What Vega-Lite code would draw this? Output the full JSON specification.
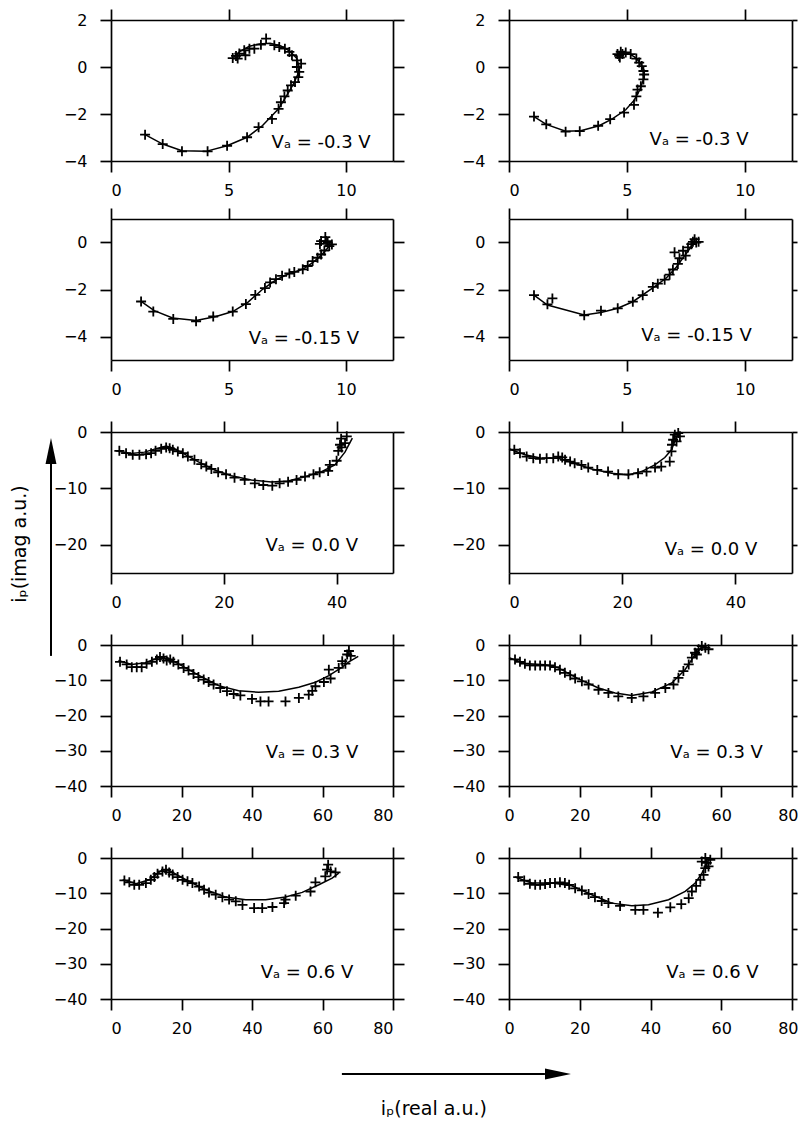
{
"$schema": "https://vega.github.io/schema/vega-lite/v6.json",
"background": "white",
"padding": {"left": 11, "top": 8, "right": 0, "bottom": 0},
"columns": 2,
"align": "each",
"bounds": "flush",
"spacing": {"row": 72, "column": 116},
"config": {
 "view": {"stroke": null},
 "axis": {"grid": false, "domainColor": "black", "domainWidth": 1.7, "tickColor": "black", "tickWidth": 1.7, "tickSize": 11, "labelFont": "DejaVu Sans", "labelFontSize": 16, "labelColor": "black", "minExtent": 0, "labelOverlap": false},
 "axisBottom": {"labelPadding": 10},
 "axisLeft": {"labelPadding": 13},
 "text": {"font": "DejaVu Sans", "color": "black"}
},
"datasets": {
"meas": [
{"p":1,"x":1.45,"y":-2.88},{"p":1,"x":2.2,"y":-3.28},{"p":1,"x":3.02,"y":-3.59},{"p":1,"x":4.11,"y":-3.59},{"p":1,"x":4.94,"y":-3.35},{"p":1,"x":5.79,"y":-2.99},{"p":1,"x":6.28,"y":-2.56},{"p":1,"x":6.85,"y":-2.21},{"p":1,"x":7.13,"y":-1.78},{"p":1,"x":7.23,"y":-1.5},{"p":1,"x":7.38,"y":-1.25},{"p":1,"x":7.52,"y":-1.0},{"p":1,"x":7.66,"y":-0.78},{"p":1,"x":7.83,"y":-0.64},{"p":1,"x":7.97,"y":-0.43},{"p":1,"x":8.01,"y":-0.21},{"p":1,"x":7.91,"y":0.0},{"p":1,"x":8.09,"y":0.14},{"p":1,"x":7.91,"y":0.28},{"p":1,"x":7.7,"y":0.5},{"p":1,"x":7.59,"y":0.64},{"p":1,"x":7.4,"y":0.78},{"p":1,"x":7.16,"y":0.85},{"p":1,"x":6.95,"y":0.93},{"p":1,"x":6.6,"y":1.21},{"p":1,"x":6.38,"y":0.95},{"p":1,"x":6.1,"y":0.78},{"p":1,"x":5.89,"y":0.78},{"p":1,"x":5.67,"y":0.71},{"p":1,"x":5.72,"y":0.5},{"p":1,"x":5.46,"y":0.57},{"p":1,"x":5.32,"y":0.47},{"p":1,"x":5.18,"y":0.38},{"p":1,"x":5.39,"y":0.36},
{"p":2,"x":1.06,"y":-2.11},{"p":2,"x":1.58,"y":-2.44},{"p":2,"x":2.4,"y":-2.75},{"p":2,"x":3.0,"y":-2.73},{"p":2,"x":3.78,"y":-2.5},{"p":2,"x":4.29,"y":-2.22},{"p":2,"x":4.88,"y":-1.94},{"p":2,"x":5.3,"y":-1.61},{"p":2,"x":5.4,"y":-1.25},{"p":2,"x":5.45,"y":-0.96},{"p":2,"x":5.59,"y":-0.82},{"p":2,"x":5.7,"y":-0.53},{"p":2,"x":5.73,"y":-0.32},{"p":2,"x":5.7,"y":-0.17},{"p":2,"x":5.63,"y":0.04},{"p":2,"x":5.52,"y":0.19},{"p":2,"x":5.4,"y":0.36},{"p":2,"x":5.16,"y":0.55},{"p":2,"x":4.95,"y":0.62},{"p":2,"x":4.74,"y":0.65},{"p":2,"x":4.67,"y":0.47},{"p":2,"x":4.81,"y":0.55},{"p":2,"x":4.6,"y":0.55},{"p":2,"x":4.7,"y":0.4},
{"p":3,"x":1.28,"y":-2.51},{"p":3,"x":1.8,"y":-2.94},{"p":3,"x":2.65,"y":-3.25},{"p":3,"x":3.62,"y":-3.35},{"p":3,"x":4.35,"y":-3.15},{"p":3,"x":5.18,"y":-2.94},{"p":3,"x":5.74,"y":-2.62},{"p":3,"x":6.14,"y":-2.23},{"p":3,"x":6.55,"y":-1.94},{"p":3,"x":6.77,"y":-1.7},{"p":3,"x":7.02,"y":-1.56},{"p":3,"x":7.28,"y":-1.42},{"p":3,"x":7.59,"y":-1.32},{"p":3,"x":7.8,"y":-1.25},{"p":3,"x":8.16,"y":-1.14},{"p":3,"x":8.37,"y":-1.0},{"p":3,"x":8.58,"y":-0.79},{"p":3,"x":8.79,"y":-0.65},{"p":3,"x":8.94,"y":-0.51},{"p":3,"x":9.08,"y":-0.34},{"p":3,"x":9.29,"y":-0.15},{"p":3,"x":9.4,"y":-0.08},{"p":3,"x":9.15,"y":0.06},{"p":3,"x":8.94,"y":0.06},{"p":3,"x":9.12,"y":0.23},{"p":3,"x":9.22,"y":-0.01},{"p":3,"x":8.89,"y":-0.06},
{"p":4,"x":1.06,"y":-2.24},{"p":4,"x":1.63,"y":-2.63},{"p":4,"x":1.84,"y":-2.38},{"p":4,"x":3.19,"y":-3.1},{"p":4,"x":3.9,"y":-2.9},{"p":4,"x":4.61,"y":-2.8},{"p":4,"x":5.25,"y":-2.52},{"p":4,"x":5.67,"y":-2.24},{"p":4,"x":6.1,"y":-1.89},{"p":4,"x":6.31,"y":-1.75},{"p":4,"x":6.6,"y":-1.58},{"p":4,"x":6.81,"y":-1.37},{"p":4,"x":6.95,"y":-1.15},{"p":4,"x":7.16,"y":-0.91},{"p":4,"x":7.23,"y":-0.67},{"p":4,"x":7.02,"y":-0.42},{"p":4,"x":7.38,"y":-0.35},{"p":4,"x":7.49,"y":-0.56},{"p":4,"x":7.59,"y":-0.21},{"p":4,"x":7.73,"y":-0.07},{"p":4,"x":7.87,"y":0.14},{"p":4,"x":7.94,"y":0.0},{"p":4,"x":8.04,"y":0.03},{"p":4,"x":7.8,"y":0.03},
{"p":5,"x":1.48,"y":-3.33},{"p":5,"x":2.67,"y":-3.75},{"p":5,"x":3.85,"y":-4.05},{"p":5,"x":5.04,"y":-4.05},{"p":5,"x":6.22,"y":-3.93},{"p":5,"x":7.11,"y":-3.75},{"p":5,"x":7.9,"y":-3.33},{"p":5,"x":8.9,"y":-2.98},{"p":5,"x":9.78,"y":-2.74},{"p":5,"x":10.4,"y":-2.86},{"p":5,"x":10.96,"y":-3.15},{"p":5,"x":11.85,"y":-3.45},{"p":5,"x":12.74,"y":-3.75},{"p":5,"x":13.63,"y":-4.35},{"p":5,"x":14.8,"y":-4.94},{"p":5,"x":16.0,"y":-5.71},{"p":5,"x":16.9,"y":-6.13},{"p":5,"x":17.8,"y":-6.55},{"p":5,"x":19.0,"y":-7.14},{"p":5,"x":20.4,"y":-7.5},{"p":5,"x":21.9,"y":-8.1},{"p":5,"x":23.7,"y":-8.5},{"p":5,"x":25.5,"y":-9.1},{"p":5,"x":27.0,"y":-9.4},{"p":5,"x":28.6,"y":-9.52},{"p":5,"x":29.9,"y":-9.1},{"p":5,"x":31.4,"y":-8.8},{"p":5,"x":32.9,"y":-8.5},{"p":5,"x":34.4,"y":-7.9},{"p":5,"x":35.9,"y":-7.5},{"p":5,"x":37.0,"y":-7.14},{"p":5,"x":38.5,"y":-6.9},{"p":5,"x":38.8,"y":-5.83},{"p":5,"x":40.0,"y":-5.1},{"p":5,"x":40.3,"y":-3.33},{"p":5,"x":40.6,"y":-2.26},{"p":5,"x":40.8,"y":-1.19},{"p":5,"x":41.5,"y":-1.96},{"p":5,"x":41.8,"y":-0.77},{"p":5,"x":40.9,"y":-2.74},
{"p":6,"x":0.94,"y":-3.15},{"p":6,"x":1.94,"y":-3.75},{"p":6,"x":3.12,"y":-4.35},{"p":6,"x":4.29,"y":-4.64},{"p":6,"x":5.47,"y":-4.76},{"p":6,"x":6.65,"y":-4.64},{"p":6,"x":7.82,"y":-4.64},{"p":6,"x":8.7,"y":-4.35},{"p":6,"x":9.4,"y":-4.5},{"p":6,"x":9.9,"y":-4.94},{"p":6,"x":10.8,"y":-5.24},{"p":6,"x":11.6,"y":-5.54},{"p":6,"x":12.8,"y":-5.83},{"p":6,"x":14.0,"y":-6.3},{"p":6,"x":15.6,"y":-6.73},{"p":6,"x":17.5,"y":-7.02},{"p":6,"x":19.3,"y":-7.5},{"p":6,"x":21.1,"y":-7.5},{"p":6,"x":22.8,"y":-7.32},{"p":6,"x":24.3,"y":-7.02},{"p":6,"x":25.8,"y":-6.3},{"p":6,"x":26.9,"y":-6.13},{"p":6,"x":28.4,"y":-5.24},{"p":6,"x":28.7,"y":-3.45},{"p":6,"x":28.8,"y":-2.26},{"p":6,"x":29.0,"y":-1.37},{"p":6,"x":29.3,"y":-0.48},{"p":6,"x":29.9,"y":-0.18},{"p":6,"x":30.2,"y":-0.77},{"p":6,"x":29.6,"y":-1.67},
{"p":7,"x":2.56,"y":-4.76},{"p":7,"x":4.45,"y":-5.5},{"p":7,"x":5.9,"y":-6.3},{"p":7,"x":7.3,"y":-6.3},{"p":7,"x":8.7,"y":-6.3},{"p":7,"x":10.1,"y":-5.3},{"p":7,"x":11.6,"y":-4.76},{"p":7,"x":13.0,"y":-4.1},{"p":7,"x":13.9,"y":-3.4},{"p":7,"x":14.9,"y":-3.8},{"p":7,"x":15.8,"y":-4.4},{"p":7,"x":16.8,"y":-4.1},{"p":7,"x":17.7,"y":-4.76},{"p":7,"x":19.1,"y":-5.5},{"p":7,"x":20.6,"y":-6.5},{"p":7,"x":22.0,"y":-7.2},{"p":7,"x":23.4,"y":-8.2},{"p":7,"x":24.8,"y":-9.1},{"p":7,"x":26.3,"y":-9.8},{"p":7,"x":27.7,"y":-10.5},{"p":7,"x":29.1,"y":-11.2},{"p":7,"x":31.0,"y":-12.2},{"p":7,"x":32.9,"y":-13.1},{"p":7,"x":34.8,"y":-13.9},{"p":7,"x":36.7,"y":-14.3},{"p":7,"x":40.0,"y":-15.3},{"p":7,"x":42.4,"y":-16.0},{"p":7,"x":44.7,"y":-16.0},{"p":7,"x":49.5,"y":-16.0},{"p":7,"x":53.3,"y":-15.0},{"p":7,"x":56.1,"y":-14.1},{"p":7,"x":57.1,"y":-13.0},{"p":7,"x":58.0,"y":-11.7},{"p":7,"x":60.4,"y":-10.5},{"p":7,"x":62.3,"y":-9.5},{"p":7,"x":61.8,"y":-7.0},{"p":7,"x":64.6,"y":-6.5},{"p":7,"x":65.6,"y":-4.6},{"p":7,"x":67.0,"y":-2.7},{"p":7,"x":67.5,"y":-1.7},{"p":7,"x":68.0,"y":-3.1},{"p":7,"x":66.5,"y":-5.3},
{"p":8,"x":1.7,"y":-4.1},{"p":8,"x":3.1,"y":-4.76},{"p":8,"x":4.5,"y":-5.3},{"p":8,"x":5.9,"y":-5.8},{"p":8,"x":7.4,"y":-5.8},{"p":8,"x":8.8,"y":-5.8},{"p":8,"x":10.2,"y":-5.8},{"p":8,"x":11.6,"y":-5.8},{"p":8,"x":13.0,"y":-6.3},{"p":8,"x":14.4,"y":-7.0},{"p":8,"x":15.8,"y":-7.9},{"p":8,"x":17.3,"y":-8.6},{"p":8,"x":18.7,"y":-9.5},{"p":8,"x":20.6,"y":-10.3},{"p":8,"x":22.5,"y":-11.2},{"p":8,"x":25.3,"y":-12.7},{"p":8,"x":28.1,"y":-13.6},{"p":8,"x":30.9,"y":-14.6},{"p":8,"x":34.7,"y":-15.0},{"p":8,"x":38.0,"y":-14.6},{"p":8,"x":41.3,"y":-13.6},{"p":8,"x":44.2,"y":-12.2},{"p":8,"x":46.5,"y":-11.2},{"p":8,"x":47.9,"y":-9.3},{"p":8,"x":49.3,"y":-7.4},{"p":8,"x":50.8,"y":-5.5},{"p":8,"x":51.7,"y":-3.6},{"p":8,"x":52.6,"y":-2.2},{"p":8,"x":53.6,"y":-1.2},{"p":8,"x":54.5,"y":-0.3},{"p":8,"x":55.5,"y":-0.76},{"p":8,"x":56.4,"y":-1.2},{"p":8,"x":53.1,"y":-2.7},
{"p":9,"x":3.8,"y":-6.35},{"p":9,"x":5.2,"y":-6.9},{"p":9,"x":6.6,"y":-7.6},{"p":9,"x":8.0,"y":-7.6},{"p":9,"x":9.9,"y":-7.1},{"p":9,"x":11.3,"y":-6.2},{"p":9,"x":12.3,"y":-5.4},{"p":9,"x":13.2,"y":-4.5},{"p":9,"x":14.6,"y":-3.8},{"p":9,"x":15.6,"y":-3.3},{"p":9,"x":16.5,"y":-4.1},{"p":9,"x":17.5,"y":-4.7},{"p":9,"x":18.9,"y":-5.4},{"p":9,"x":20.3,"y":-6.2},{"p":9,"x":21.7,"y":-6.6},{"p":9,"x":23.1,"y":-7.1},{"p":9,"x":25.0,"y":-8.1},{"p":9,"x":26.4,"y":-9.0},{"p":9,"x":27.8,"y":-9.8},{"p":9,"x":29.7,"y":-10.4},{"p":9,"x":31.6,"y":-11.1},{"p":9,"x":33.5,"y":-11.8},{"p":9,"x":35.4,"y":-12.3},{"p":9,"x":37.3,"y":-13.3},{"p":9,"x":40.6,"y":-14.2},{"p":9,"x":42.9,"y":-14.2},{"p":9,"x":45.8,"y":-13.9},{"p":9,"x":49.1,"y":-12.8},{"p":9,"x":49.5,"y":-11.8},{"p":9,"x":52.4,"y":-10.7},{"p":9,"x":56.6,"y":-9.5},{"p":9,"x":58.0,"y":-6.9},{"p":9,"x":60.8,"y":-5.2},{"p":9,"x":61.3,"y":-3.3},{"p":9,"x":61.6,"y":-1.9},{"p":9,"x":62.3,"y":-3.8},{"p":9,"x":63.7,"y":-4.1},
{"p":10,"x":2.6,"y":-5.4},{"p":10,"x":4.3,"y":-6.4},{"p":10,"x":5.9,"y":-7.3},{"p":10,"x":7.4,"y":-7.6},{"p":10,"x":8.8,"y":-7.6},{"p":10,"x":10.2,"y":-7.4},{"p":10,"x":11.6,"y":-7.1},{"p":10,"x":13.0,"y":-7.1},{"p":10,"x":14.4,"y":-6.9},{"p":10,"x":15.8,"y":-7.1},{"p":10,"x":17.0,"y":-7.6},{"p":10,"x":18.7,"y":-8.6},{"p":10,"x":20.6,"y":-9.2},{"p":10,"x":22.5,"y":-10.2},{"p":10,"x":24.3,"y":-11.1},{"p":10,"x":26.2,"y":-12.2},{"p":10,"x":28.1,"y":-12.8},{"p":10,"x":31.4,"y":-13.6},{"p":10,"x":35.7,"y":-14.7},{"p":10,"x":38.0,"y":-14.7},{"p":10,"x":42.1,"y":-15.5},{"p":10,"x":45.6,"y":-14.0},{"p":10,"x":48.7,"y":-13.1},{"p":10,"x":50.8,"y":-11.4},{"p":10,"x":51.7,"y":-9.5},{"p":10,"x":52.9,"y":-7.9},{"p":10,"x":54.1,"y":-6.2},{"p":10,"x":55.0,"y":-4.8},{"p":10,"x":55.5,"y":-2.9},{"p":10,"x":55.9,"y":-1.4},{"p":10,"x":55.5,"y":0.0},{"p":10,"x":56.9,"y":-0.5},{"p":10,"x":54.5,"y":-1.0},{"p":10,"x":56.4,"y":-2.4}
],
"fit": [
{"p":1,"x":1.45,"y":-2.88},{"p":1,"x":2.2,"y":-3.28},{"p":1,"x":3.02,"y":-3.56},{"p":1,"x":4.04,"y":-3.59},{"p":1,"x":4.94,"y":-3.35},{"p":1,"x":5.79,"y":-2.99},{"p":1,"x":6.45,"y":-2.49},{"p":1,"x":7.13,"y":-1.78},{"p":1,"x":7.52,"y":-1.14},{"p":1,"x":7.77,"y":-0.71},{"p":1,"x":7.94,"y":-0.33},{"p":1,"x":8.01,"y":0.0},{"p":1,"x":7.91,"y":0.36},{"p":1,"x":7.62,"y":0.67},{"p":1,"x":7.23,"y":0.9},{"p":1,"x":6.77,"y":1.01},{"p":1,"x":6.31,"y":0.98},{"p":1,"x":5.89,"y":0.88},{"p":1,"x":5.49,"y":0.67},{"p":1,"x":5.22,"y":0.43},
{"p":2,"x":1.06,"y":-2.11},{"p":2,"x":1.58,"y":-2.44},{"p":2,"x":2.4,"y":-2.73},{"p":2,"x":3.04,"y":-2.71},{"p":2,"x":3.82,"y":-2.5},{"p":2,"x":4.38,"y":-2.21},{"p":2,"x":4.95,"y":-1.82},{"p":2,"x":5.3,"y":-1.42},{"p":2,"x":5.54,"y":-0.99},{"p":2,"x":5.7,"y":-0.53},{"p":2,"x":5.7,"y":-0.13},{"p":2,"x":5.56,"y":0.19},{"p":2,"x":5.32,"y":0.43},{"p":2,"x":5.04,"y":0.59},{"p":2,"x":4.74,"y":0.59},{"p":2,"x":4.6,"y":0.47},
{"p":3,"x":1.28,"y":-2.51},{"p":3,"x":1.84,"y":-2.9},{"p":3,"x":2.62,"y":-3.21},{"p":3,"x":3.62,"y":-3.32},{"p":3,"x":4.47,"y":-3.15},{"p":3,"x":5.18,"y":-2.94},{"p":3,"x":5.82,"y":-2.55},{"p":3,"x":6.45,"y":-1.99},{"p":3,"x":7.02,"y":-1.59},{"p":3,"x":7.59,"y":-1.32},{"p":3,"x":8.16,"y":-1.14},{"p":3,"x":8.58,"y":-0.86},{"p":3,"x":8.94,"y":-0.55},{"p":3,"x":9.22,"y":-0.23},{"p":3,"x":9.36,"y":-0.06},
{"p":4,"x":1.06,"y":-2.24},{"p":4,"x":1.63,"y":-2.66},{"p":4,"x":3.19,"y":-3.08},{"p":4,"x":3.9,"y":-2.98},{"p":4,"x":4.61,"y":-2.8},{"p":4,"x":5.25,"y":-2.52},{"p":4,"x":6.1,"y":-1.93},{"p":4,"x":6.67,"y":-1.51},{"p":4,"x":7.09,"y":-1.05},{"p":4,"x":7.45,"y":-0.56},{"p":4,"x":7.73,"y":-0.17},{"p":4,"x":7.94,"y":0.07},
{"p":5,"x":0.89,"y":-3.33},{"p":5,"x":3.56,"y":-3.81},{"p":5,"x":5.93,"y":-3.57},{"p":5,"x":8.3,"y":-2.86},{"p":5,"x":9.78,"y":-2.5},{"p":5,"x":11.26,"y":-2.98},{"p":5,"x":13.04,"y":-3.93},{"p":5,"x":15.41,"y":-5.24},{"p":5,"x":18.37,"y":-6.73},{"p":5,"x":21.33,"y":-7.74},{"p":5,"x":24.89,"y":-8.51},{"p":5,"x":28.44,"y":-8.87},{"p":5,"x":31.41,"y":-8.69},{"p":5,"x":34.37,"y":-7.92},{"p":5,"x":37.33,"y":-7.02},{"p":5,"x":39.7,"y":-5.83},{"p":5,"x":41.48,"y":-3.57},{"p":5,"x":42.79,"y":-1.07},
{"p":6,"x":0.0,"y":-2.98},{"p":6,"x":2.82,"y":-4.05},{"p":6,"x":5.76,"y":-4.64},{"p":6,"x":8.71,"y":-4.64},{"p":6,"x":11.06,"y":-5.36},{"p":6,"x":14.59,"y":-6.55},{"p":6,"x":18.12,"y":-7.32},{"p":6,"x":21.06,"y":-7.62},{"p":6,"x":23.41,"y":-7.02},{"p":6,"x":25.76,"y":-5.83},{"p":6,"x":27.53,"y":-4.52},{"p":6,"x":28.71,"y":-3.15},{"p":6,"x":29.29,"y":-1.67},{"p":6,"x":29.88,"y":-0.18},
{"p":7,"x":2.09,"y":-4.38},{"p":7,"x":5.88,"y":-5.52},{"p":7,"x":9.67,"y":-5.05},{"p":7,"x":13.46,"y":-3.62},{"p":7,"x":15.36,"y":-3.24},{"p":7,"x":19.15,"y":-5.33},{"p":7,"x":24.83,"y":-8.57},{"p":7,"x":30.52,"y":-11.52},{"p":7,"x":36.21,"y":-12.95},{"p":7,"x":41.9,"y":-13.43},{"p":7,"x":47.58,"y":-13.14},{"p":7,"x":53.27,"y":-12.0},{"p":7,"x":58.01,"y":-10.57},{"p":7,"x":61.8,"y":-8.67},{"p":7,"x":65.59,"y":-6.29},{"p":7,"x":67.49,"y":-4.76},{"p":7,"x":70.14,"y":-3.24},
{"p":8,"x":0.0,"y":-3.62},{"p":8,"x":4.53,"y":-5.24},{"p":8,"x":10.19,"y":-5.62},{"p":8,"x":13.96,"y":-6.48},{"p":8,"x":19.62,"y":-9.62},{"p":8,"x":25.28,"y":-12.19},{"p":8,"x":30.0,"y":-13.62},{"p":8,"x":34.72,"y":-14.29},{"p":8,"x":40.38,"y":-13.33},{"p":8,"x":46.04,"y":-10.76},{"p":8,"x":49.81,"y":-6.95},{"p":8,"x":52.64,"y":-2.67},{"p":8,"x":55.0,"y":0.0},
{"p":9,"x":3.3,"y":-6.16},{"p":9,"x":7.08,"y":-7.3},{"p":9,"x":10.85,"y":-6.16},{"p":9,"x":14.62,"y":-3.32},{"p":9,"x":16.51,"y":-3.51},{"p":9,"x":21.23,"y":-6.16},{"p":9,"x":26.89,"y":-9.0},{"p":9,"x":32.55,"y":-11.09},{"p":9,"x":38.21,"y":-11.85},{"p":9,"x":43.87,"y":-11.85},{"p":9,"x":49.53,"y":-11.09},{"p":9,"x":54.25,"y":-9.76},{"p":9,"x":58.96,"y":-7.58},{"p":9,"x":62.74,"y":-5.69},{"p":9,"x":64.62,"y":-4.27},
{"p":10,"x":1.7,"y":-5.4},{"p":10,"x":6.42,"y":-7.11},{"p":10,"x":12.08,"y":-7.11},{"p":10,"x":17.74,"y":-7.87},{"p":10,"x":23.4,"y":-10.43},{"p":10,"x":29.06,"y":-12.8},{"p":10,"x":34.72,"y":-13.55},{"p":10,"x":39.43,"y":-13.27},{"p":10,"x":45.09,"y":-11.85},{"p":10,"x":49.81,"y":-9.48},{"p":10,"x":52.64,"y":-7.11},{"p":10,"x":54.53,"y":-4.27},{"p":10,"x":55.94,"y":-1.42},{"p":10,"x":56.89,"y":0.0}
]
},
"concat": [
{"width": 282, "height": 127, "resolve": {"axis": {"x": "independent", "y": "independent"}},
 "layer": [
  {"data": {"name": "fit"}, "transform": [{"filter": "datum.p == 1"}], "mark": {"type": "line", "color": "black", "strokeWidth": 1.5},
   "encoding": {"x": {"field": "x", "type": "quantitative", "scale": {"domain": [0, 12]}, "axis": {"orient": "bottom", "values": [0, 5, 10], "title": null, "offset": 14}},
    "y": {"field": "y", "type": "quantitative", "scale": {"domain": [-4, 2], "range": [141, 0]}, "axis": {"orient": "left", "values": [-4, -2, 0, 2], "title": null}},
    "order": {"value": null}}},
  {"data": {"name": "meas"}, "transform": [{"filter": "datum.p == 1"}], "mark": {"type": "point", "shape": "M-1,0L1,0M0,-1L0,1", "size": 100, "filled": false, "color": "black", "strokeWidth": 1.8, "opacity": 1},
   "encoding": {"x": {"field": "x", "type": "quantitative", "scale": {"domain": [0, 12]}, "axis": {"orient": "top", "values": [0, 5, 10], "labels": false, "title": null}},
    "y": {"field": "y", "type": "quantitative", "scale": {"domain": [-4, 2], "range": [141, 0]}, "axis": {"orient": "right", "values": [-4, -2, 0, 2], "labels": false, "title": null}}}},
  {"data": {"values": [{}]}, "mark": {"type": "text", "fontSize": 18, "align": "center", "baseline": "alphabetic"},
   "encoding": {"x": {"datum": 8.94, "type": "quantitative", "scale": {"domain": [0, 12]}, "axis": null}, "y": {"datum": -3.45, "type": "quantitative", "scale": {"domain": [-4, 2], "range": [141, 0]}, "axis": null}, "text": {"value": "Vₐ = -0.3 V"}}}
 ]},
{"width": 283, "height": 127, "resolve": {"axis": {"x": "independent", "y": "independent"}},
 "layer": [
  {"data": {"name": "fit"}, "transform": [{"filter": "datum.p == 2"}], "mark": {"type": "line", "color": "black", "strokeWidth": 1.5},
   "encoding": {"x": {"field": "x", "type": "quantitative", "scale": {"domain": [0, 12]}, "axis": {"orient": "bottom", "values": [0, 5, 10], "title": null, "offset": 14}},
    "y": {"field": "y", "type": "quantitative", "scale": {"domain": [-4, 2], "range": [141, 0]}, "axis": {"orient": "left", "values": [-4, -2, 0, 2], "title": null}},
    "order": {"value": null}}},
  {"data": {"name": "meas"}, "transform": [{"filter": "datum.p == 2"}], "mark": {"type": "point", "shape": "M-1,0L1,0M0,-1L0,1", "size": 100, "filled": false, "color": "black", "strokeWidth": 1.8, "opacity": 1},
   "encoding": {"x": {"field": "x", "type": "quantitative", "scale": {"domain": [0, 12]}, "axis": {"orient": "top", "values": [0, 5, 10], "labels": false, "title": null}},
    "y": {"field": "y", "type": "quantitative", "scale": {"domain": [-4, 2], "range": [141, 0]}, "axis": {"orient": "right", "values": [-4, -2, 0, 2], "labels": false, "title": null, "tickSize": 5}}}},
  {"data": {"values": [{}]}, "mark": {"type": "text", "fontSize": 18, "align": "center", "baseline": "alphabetic"},
   "encoding": {"x": {"datum": 8.06, "type": "quantitative", "scale": {"domain": [0, 12]}, "axis": null}, "y": {"datum": -3.32, "type": "quantitative", "scale": {"domain": [-4, 2], "range": [141, 0]}, "axis": null}, "text": {"value": "Vₐ = -0.3 V"}}}
 ]},
{"width": 282, "height": 141, "resolve": {"axis": {"x": "independent", "y": "independent"}},
 "layer": [
  {"data": {"name": "fit"}, "transform": [{"filter": "datum.p == 3"}], "mark": {"type": "line", "color": "black", "strokeWidth": 1.5},
   "encoding": {"x": {"field": "x", "type": "quantitative", "scale": {"domain": [0, 12]}, "axis": {"orient": "bottom", "values": [0, 5, 10], "title": null}},
    "y": {"field": "y", "type": "quantitative", "scale": {"domain": [-5, 1]}, "axis": {"orient": "left", "values": [-4, -2, 0], "title": null}},
    "order": {"value": null}}},
  {"data": {"name": "meas"}, "transform": [{"filter": "datum.p == 3"}], "mark": {"type": "point", "shape": "M-1,0L1,0M0,-1L0,1", "size": 100, "filled": false, "color": "black", "strokeWidth": 1.8, "opacity": 1},
   "encoding": {"x": {"field": "x", "type": "quantitative", "scale": {"domain": [0, 12]}, "axis": {"orient": "top", "values": [0, 5, 10], "labels": false, "title": null}},
    "y": {"field": "y", "type": "quantitative", "scale": {"domain": [-5, 1]}, "axis": {"orient": "right", "values": [-4, -2, 0], "labels": false, "title": null}}}},
  {"data": {"values": [{}]}, "mark": {"type": "text", "fontSize": 18, "align": "center", "baseline": "alphabetic"},
   "encoding": {"x": {"datum": 8.21, "type": "quantitative", "scale": {"domain": [0, 12]}, "axis": null}, "y": {"datum": -4.33, "type": "quantitative", "scale": {"domain": [-5, 1]}, "axis": null}, "text": {"value": "Vₐ = -0.15 V"}}}
 ]},
{"width": 283, "height": 141, "resolve": {"axis": {"x": "independent", "y": "independent"}},
 "layer": [
  {"data": {"name": "fit"}, "transform": [{"filter": "datum.p == 4"}], "mark": {"type": "line", "color": "black", "strokeWidth": 1.5},
   "encoding": {"x": {"field": "x", "type": "quantitative", "scale": {"domain": [0, 12]}, "axis": {"orient": "bottom", "values": [0, 5, 10], "title": null}},
    "y": {"field": "y", "type": "quantitative", "scale": {"domain": [-5, 1]}, "axis": {"orient": "left", "values": [-4, -2, 0], "title": null}},
    "order": {"value": null}}},
  {"data": {"name": "meas"}, "transform": [{"filter": "datum.p == 4"}], "mark": {"type": "point", "shape": "M-1,0L1,0M0,-1L0,1", "size": 100, "filled": false, "color": "black", "strokeWidth": 1.8, "opacity": 1},
   "encoding": {"x": {"field": "x", "type": "quantitative", "scale": {"domain": [0, 12]}, "axis": {"orient": "top", "values": [0, 5, 10], "labels": false, "title": null}},
    "y": {"field": "y", "type": "quantitative", "scale": {"domain": [-5, 1]}, "axis": {"orient": "right", "values": [-4, -2, 0], "labels": false, "title": null, "tickSize": 5}}}},
  {"data": {"values": [{}]}, "mark": {"type": "text", "fontSize": 18, "align": "center", "baseline": "alphabetic"},
   "encoding": {"x": {"datum": 7.95, "type": "quantitative", "scale": {"domain": [0, 12]}, "axis": null}, "y": {"datum": -4.18, "type": "quantitative", "scale": {"domain": [-5, 1]}, "axis": null}, "text": {"value": "Vₐ = -0.15 V"}}}
 ]},
{"width": 282, "height": 141, "resolve": {"axis": {"x": "independent", "y": "independent"}},
 "layer": [
  {"data": {"name": "fit"}, "transform": [{"filter": "datum.p == 5"}], "mark": {"type": "line", "color": "black", "strokeWidth": 1.5},
   "encoding": {"x": {"field": "x", "type": "quantitative", "scale": {"domain": [0, 50]}, "axis": {"orient": "bottom", "values": [0, 20, 40], "title": null}},
    "y": {"field": "y", "type": "quantitative", "scale": {"domain": [-25, 0]}, "axis": {"orient": "left", "values": [-20, -10, 0], "title": null}},
    "order": {"value": null}}},
  {"data": {"name": "meas"}, "transform": [{"filter": "datum.p == 5"}], "mark": {"type": "point", "shape": "M-1,0L1,0M0,-1L0,1", "size": 100, "filled": false, "color": "black", "strokeWidth": 1.8, "opacity": 1},
   "encoding": {"x": {"field": "x", "type": "quantitative", "scale": {"domain": [0, 50]}, "axis": {"orient": "top", "values": [0, 20, 40], "labels": false, "title": null}},
    "y": {"field": "y", "type": "quantitative", "scale": {"domain": [-25, 0]}, "axis": {"orient": "right", "values": [-20, -10, 0], "labels": false, "title": null}}}},
  {"data": {"values": [{}]}, "mark": {"type": "text", "fontSize": 18, "align": "center", "baseline": "alphabetic"},
   "encoding": {"x": {"datum": 35.6, "type": "quantitative", "scale": {"domain": [0, 50]}, "axis": null}, "y": {"datum": -21.1, "type": "quantitative", "scale": {"domain": [-25, 0]}, "axis": null}, "text": {"value": "Vₐ = 0.0 V"}}},
  {"data": {"values": [{}]}, "mark": {"type": "rule", "color": "black", "strokeWidth": 2},
   "encoding": {"x": {"datum": -10.64, "type": "quantitative", "scale": {"domain": [0, 50]}, "axis": null}, "y": {"datum": -5.67, "type": "quantitative", "scale": {"domain": [-25, 0]}, "axis": null}, "y2": {"datum": -39.7}}},
  {"data": {"values": [{}]}, "mark": {"type": "point", "shape": "M0,-1L0.42,1L-0.42,1Z", "size": 676, "filled": true, "color": "black", "opacity": 1},
   "encoding": {"x": {"datum": -10.64, "type": "quantitative", "scale": {"domain": [0, 50]}, "axis": null}, "y": {"datum": -3.37, "type": "quantitative", "scale": {"domain": [-25, 0]}, "axis": null}}},
  {"data": {"values": [{}]}, "mark": {"type": "text", "fontSize": 19, "angle": 270, "align": "center", "baseline": "middle"},
   "encoding": {"x": {"datum": -16.13, "type": "quantitative", "scale": {"domain": [0, 50]}, "axis": null}, "y": {"datum": -19.86, "type": "quantitative", "scale": {"domain": [-25, 0]}, "axis": null}, "text": {"value": "iₚ(imag a.u.)"}}}
 ]},
{"width": 283, "height": 141, "resolve": {"axis": {"x": "independent", "y": "independent"}},
 "layer": [
  {"data": {"name": "fit"}, "transform": [{"filter": "datum.p == 6"}], "mark": {"type": "line", "color": "black", "strokeWidth": 1.5},
   "encoding": {"x": {"field": "x", "type": "quantitative", "scale": {"domain": [0, 50]}, "axis": {"orient": "bottom", "values": [0, 20, 40], "title": null}},
    "y": {"field": "y", "type": "quantitative", "scale": {"domain": [-25, 0]}, "axis": {"orient": "left", "values": [-20, -10, 0], "title": null}},
    "order": {"value": null}}},
  {"data": {"name": "meas"}, "transform": [{"filter": "datum.p == 6"}], "mark": {"type": "point", "shape": "M-1,0L1,0M0,-1L0,1", "size": 100, "filled": false, "color": "black", "strokeWidth": 1.8, "opacity": 1},
   "encoding": {"x": {"field": "x", "type": "quantitative", "scale": {"domain": [0, 50]}, "axis": {"orient": "top", "values": [0, 20, 40], "labels": false, "title": null}},
    "y": {"field": "y", "type": "quantitative", "scale": {"domain": [-25, 0]}, "axis": {"orient": "right", "values": [-20, -10, 0], "labels": false, "title": null, "tickSize": 5}}}},
  {"data": {"values": [{}]}, "mark": {"type": "text", "fontSize": 18, "align": "center", "baseline": "alphabetic"},
   "encoding": {"x": {"datum": 35.7, "type": "quantitative", "scale": {"domain": [0, 50]}, "axis": null}, "y": {"datum": -21.8, "type": "quantitative", "scale": {"domain": [-25, 0]}, "axis": null}, "text": {"value": "Vₐ = 0.0 V"}}}
 ]},
{"width": 282, "height": 141, "resolve": {"axis": {"x": "independent", "y": "independent"}},
 "layer": [
  {"data": {"name": "fit"}, "transform": [{"filter": "datum.p == 7"}], "mark": {"type": "line", "color": "black", "strokeWidth": 1.5},
   "encoding": {"x": {"field": "x", "type": "quantitative", "scale": {"domain": [0, 80]}, "axis": {"orient": "bottom", "values": [0, 20, 40, 60, 80], "title": null}},
    "y": {"field": "y", "type": "quantitative", "scale": {"domain": [-40, 0]}, "axis": {"orient": "left", "values": [-40, -30, -20, -10, 0], "title": null}},
    "order": {"value": null}}},
  {"data": {"name": "meas"}, "transform": [{"filter": "datum.p == 7"}], "mark": {"type": "point", "shape": "M-1,0L1,0M0,-1L0,1", "size": 100, "filled": false, "color": "black", "strokeWidth": 1.8, "opacity": 1},
   "encoding": {"x": {"field": "x", "type": "quantitative", "scale": {"domain": [0, 80]}, "axis": {"orient": "top", "values": [0, 20, 40, 60, 80], "labels": false, "title": null}},
    "y": {"field": "y", "type": "quantitative", "scale": {"domain": [-40, 0]}, "axis": {"orient": "right", "values": [-40, -30, -20, -10, 0], "labels": false, "title": null}}}},
  {"data": {"values": [{}]}, "mark": {"type": "text", "fontSize": 18, "align": "center", "baseline": "alphabetic"},
   "encoding": {"x": {"datum": 57.0, "type": "quantitative", "scale": {"domain": [0, 80]}, "axis": null}, "y": {"datum": -32.0, "type": "quantitative", "scale": {"domain": [-40, 0]}, "axis": null}, "text": {"value": "Vₐ = 0.3 V"}}}
 ]},
{"width": 283, "height": 141, "resolve": {"axis": {"x": "independent", "y": "independent"}},
 "layer": [
  {"data": {"name": "fit"}, "transform": [{"filter": "datum.p == 8"}], "mark": {"type": "line", "color": "black", "strokeWidth": 1.5},
   "encoding": {"x": {"field": "x", "type": "quantitative", "scale": {"domain": [0, 80]}, "axis": {"orient": "bottom", "values": [0, 20, 40, 60, 80], "title": null, "labelAlign": {"condition": {"test": "datum.value == 80", "value": "right"}, "value": "center"}, "labelOffset": {"condition": {"test": "datum.value == 80", "value": 6}, "value": 0}}},
    "y": {"field": "y", "type": "quantitative", "scale": {"domain": [-40, 0]}, "axis": {"orient": "left", "values": [-40, -30, -20, -10, 0], "title": null}},
    "order": {"value": null}}},
  {"data": {"name": "meas"}, "transform": [{"filter": "datum.p == 8"}], "mark": {"type": "point", "shape": "M-1,0L1,0M0,-1L0,1", "size": 100, "filled": false, "color": "black", "strokeWidth": 1.8, "opacity": 1},
   "encoding": {"x": {"field": "x", "type": "quantitative", "scale": {"domain": [0, 80]}, "axis": {"orient": "top", "values": [0, 20, 40, 60, 80], "labels": false, "title": null}},
    "y": {"field": "y", "type": "quantitative", "scale": {"domain": [-40, 0]}, "axis": {"orient": "right", "values": [-40, -30, -20, -10, 0], "labels": false, "title": null, "tickSize": 5}}}},
  {"data": {"values": [{}]}, "mark": {"type": "text", "fontSize": 18, "align": "center", "baseline": "alphabetic"},
   "encoding": {"x": {"datum": 58.7, "type": "quantitative", "scale": {"domain": [0, 80]}, "axis": null}, "y": {"datum": -32.1, "type": "quantitative", "scale": {"domain": [-40, 0]}, "axis": null}, "text": {"value": "Vₐ = 0.3 V"}}}
 ]},
{"width": 282, "height": 141, "resolve": {"axis": {"x": "independent", "y": "independent"}},
 "layer": [
  {"data": {"name": "fit"}, "transform": [{"filter": "datum.p == 9"}], "mark": {"type": "line", "color": "black", "strokeWidth": 1.5},
   "encoding": {"x": {"field": "x", "type": "quantitative", "scale": {"domain": [0, 80]}, "axis": {"orient": "bottom", "values": [0, 20, 40, 60, 80], "title": null}},
    "y": {"field": "y", "type": "quantitative", "scale": {"domain": [-40, 0]}, "axis": {"orient": "left", "values": [-40, -30, -20, -10, 0], "title": null}},
    "order": {"value": null}}},
  {"data": {"name": "meas"}, "transform": [{"filter": "datum.p == 9"}], "mark": {"type": "point", "shape": "M-1,0L1,0M0,-1L0,1", "size": 100, "filled": false, "color": "black", "strokeWidth": 1.8, "opacity": 1},
   "encoding": {"x": {"field": "x", "type": "quantitative", "scale": {"domain": [0, 80]}, "axis": {"orient": "top", "values": [0, 20, 40, 60, 80], "labels": false, "title": null}},
    "y": {"field": "y", "type": "quantitative", "scale": {"domain": [-40, 0]}, "axis": {"orient": "right", "values": [-40, -30, -20, -10, 0], "labels": false, "title": null}}}},
  {"data": {"values": [{}]}, "mark": {"type": "text", "fontSize": 18, "align": "center", "baseline": "alphabetic"},
   "encoding": {"x": {"datum": 55.6, "type": "quantitative", "scale": {"domain": [0, 80]}, "axis": null}, "y": {"datum": -33.96, "type": "quantitative", "scale": {"domain": [-40, 0]}, "axis": null}, "text": {"value": "Vₐ = 0.6 V"}}},
  {"data": {"values": [{}]}, "mark": {"type": "rule", "color": "black", "strokeWidth": 2},
   "encoding": {"x": {"datum": 65.5, "type": "quantitative", "scale": {"domain": [0, 80]}, "axis": null}, "x2": {"datum": 123.1}, "y": {"datum": -61.3, "type": "quantitative", "scale": {"domain": [-40, 0]}, "axis": null}}},
  {"data": {"values": [{}]}, "mark": {"type": "point", "shape": "M1,0L-1,-0.42L-1,0.42Z", "size": 676, "filled": true, "color": "black", "opacity": 1},
   "encoding": {"x": {"datum": 126.8, "type": "quantitative", "scale": {"domain": [0, 80]}, "axis": null}, "y": {"datum": -61.3, "type": "quantitative", "scale": {"domain": [-40, 0]}, "axis": null}}},
  {"data": {"values": [{}]}, "mark": {"type": "text", "fontSize": 19, "align": "center", "baseline": "middle"},
   "encoding": {"x": {"datum": 91.6, "type": "quantitative", "scale": {"domain": [0, 80]}, "axis": null}, "y": {"datum": -71.2, "type": "quantitative", "scale": {"domain": [-40, 0]}, "axis": null}, "text": {"value": "iₚ(real a.u.)"}}}
 ]},
{"width": 283, "height": 141, "resolve": {"axis": {"x": "independent", "y": "independent"}},
 "layer": [
  {"data": {"name": "fit"}, "transform": [{"filter": "datum.p == 10"}], "mark": {"type": "line", "color": "black", "strokeWidth": 1.5},
   "encoding": {"x": {"field": "x", "type": "quantitative", "scale": {"domain": [0, 80]}, "axis": {"orient": "bottom", "values": [0, 20, 40, 60, 80], "title": null, "labelAlign": {"condition": {"test": "datum.value == 80", "value": "right"}, "value": "center"}, "labelOffset": {"condition": {"test": "datum.value == 80", "value": 6}, "value": 0}}},
    "y": {"field": "y", "type": "quantitative", "scale": {"domain": [-40, 0]}, "axis": {"orient": "left", "values": [-40, -30, -20, -10, 0], "title": null}},
    "order": {"value": null}}},
  {"data": {"name": "meas"}, "transform": [{"filter": "datum.p == 10"}], "mark": {"type": "point", "shape": "M-1,0L1,0M0,-1L0,1", "size": 100, "filled": false, "color": "black", "strokeWidth": 1.8, "opacity": 1},
   "encoding": {"x": {"field": "x", "type": "quantitative", "scale": {"domain": [0, 80]}, "axis": {"orient": "top", "values": [0, 20, 40, 60, 80], "labels": false, "title": null}},
    "y": {"field": "y", "type": "quantitative", "scale": {"domain": [-40, 0]}, "axis": {"orient": "right", "values": [-40, -30, -20, -10, 0], "labels": false, "title": null, "tickSize": 5}}}},
  {"data": {"values": [{}]}, "mark": {"type": "text", "fontSize": 18, "align": "center", "baseline": "alphabetic"},
   "encoding": {"x": {"datum": 57.5, "type": "quantitative", "scale": {"domain": [0, 80]}, "axis": null}, "y": {"datum": -34.0, "type": "quantitative", "scale": {"domain": [-40, 0]}, "axis": null}, "text": {"value": "Vₐ = 0.6 V"}}}
 ]}
]
}
